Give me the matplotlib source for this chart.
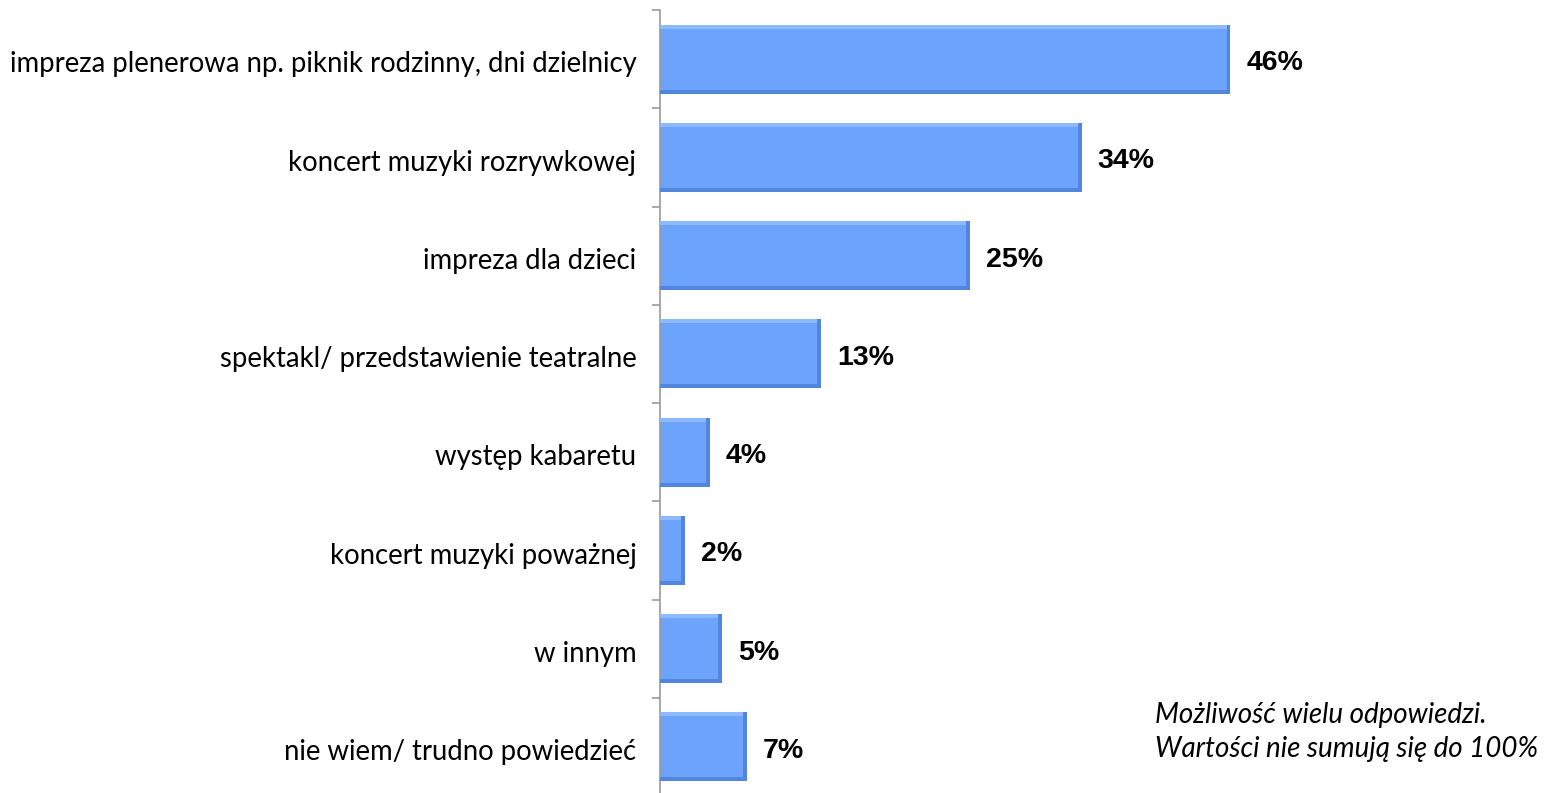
import numpy as np
from matplotlib import pyplot as plt
from matplotlib.transforms import ScaledTranslation

categories = [
    "impreza plenerowa np. piknik rodzinny, dni dzielnicy",
    "koncert muzyki rozrywkowej",
    "impreza dla dzieci",
    "spektakl/ przedstawienie teatralne",
    "występ kabaretu",
    "koncert muzyki poważnej",
    "w innym",
    "nie wiem/ trudno powiedzieć",
]
values = [46, 34, 25, 13, 4, 2, 5, 7]
note = "Możliwość wielu odpowiedzi.\nWartości nie sumują się do 100%"

face = "#6ca4fd"
light = "#8dbaff"
dark = "#5286dc"

fig = plt.figure(figsize=(15.44, 7.93), dpi=100)
ax = fig.add_axes([660 / 1544, -3 / 793, 620 / 1544, 786 / 793])

y = np.arange(len(categories))
h = 0.70
ax.barh(y, values, height=h, color=face, edgecolor="none", zorder=2)
# bevel: light top strip, dark right/bottom edges
ax.barh(y - h / 2 + 0.02, values, height=0.04, color=light, edgecolor="none", zorder=3)
ax.barh(y + h / 2 - 0.02, values, height=0.04, color=dark, edgecolor="none", zorder=3)
v = np.array(values, dtype=float)
ax.barh(y, np.full(len(v), 0.3), left=v - 0.3, height=h, color=dark, edgecolor="none", zorder=4)

for yi, val in zip(y, values):
    ax.text(val + 1.3, yi + 0.04, f"{val}%", va="center", ha="left",
            fontsize=20.5, fontweight="bold", family="Liberation Sans")

ax.set_xlim(0, 50)
ax.set_ylim(len(categories) - 0.5, -0.5)
ax.set_yticks(y)
ax.set_yticklabels(categories, fontsize=19.8, family="Lato")
ax.set_yticks(np.arange(len(categories) + 1) - 0.5, minor=True)
ax.tick_params(axis="y", which="major", length=0, pad=17)
ax.tick_params(axis="y", which="minor", length=6, color="#999999", width=1.2)
shift = ScaledTranslation(0, -2 / 72, fig.dpi_scale_trans)
for lbl in ax.get_yticklabels():
    lbl.set_transform(lbl.get_transform() + shift)
ax.set_xticks([])
for s in ["top", "right", "bottom"]:
    ax.spines[s].set_visible(False)
ax.spines["left"].set_color("#999999")
ax.spines["left"].set_linewidth(1.2)

fig.text(1155 / 1544, 1 - 732 / 793, note, fontsize=20, style="italic",
         family="Lato", va="center", ha="left", linespacing=1.35)

plt.savefig("out.png", dpi=100)
